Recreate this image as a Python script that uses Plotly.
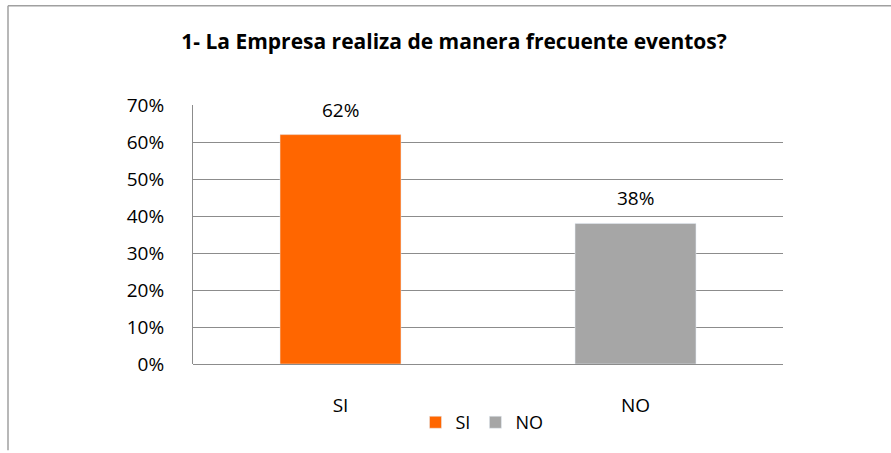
import plotly.graph_objects as go

categories = ["SI", "NO"]
values = [0.62, 0.38]
colors = ["#FF6600", "#A6A6A6"]
title_text = "<b>1- La Empresa realiza de manera frecuente eventos?</b>"
tick_vals = [0, 0.1, 0.2, 0.3, 0.4, 0.5, 0.6, 0.7]
tick_text = ["0%", "10%", "20%", "30%", "40%", "50%", "60%", "70%"]

FONT = "Open Sans"

fig = go.Figure()
for cat, val, col in zip(categories, values, colors):
    fig.add_trace(go.Bar(x=[cat], y=[val], name=cat, marker_color=col))

annotations = [
    dict(x=cat, y=val, xref="x", yref="y", text=f"{round(val*100)}%",
         showarrow=False, yanchor="bottom", yshift=10,
         font=dict(size=19, color="#000000", family=FONT))
    for cat, val in zip(categories, values)
]

W, H = 891, 453
L, R, T, B = 193, 783, 105, 366
pw, ph = R - L, B - T

def px_x(x):
    return (x - L) / pw

def px_y(y):
    return (B - y) / ph

fig.update_layout(
    width=W, height=H,
    margin=dict(l=L, r=W - R, t=T, b=H - B),
    paper_bgcolor="white", plot_bgcolor="white",
    barmode="overlay", bargap=0.59,
    font=dict(family=FONT, color="#000000", size=19),
    title=dict(text=title_text, x=454 / W, xanchor="center", xref="container",
               y=1 - 42 / H, yanchor="middle",
               font=dict(size=21, family=FONT, color="#000000")),
    showlegend=True,
    legend=dict(orientation="h", x=px_x(482), xanchor="center",
                y=px_y(425), yanchor="middle",
                font=dict(size=18, family=FONT), itemwidth=30,
                tracegroupgap=0),
    annotations=annotations,
    xaxis=dict(showgrid=False, showline=False, ticks="",
               tickfont=dict(size=19, family=FONT), ticklabelstandoff=28),
    yaxis=dict(range=[0, 0.7], tickvals=tick_vals, ticktext=tick_text,
               showgrid=True, gridcolor="#8C8C8C", gridwidth=1,
               showline=True, linecolor="#8C8C8C", linewidth=1,
               zeroline=True, zerolinecolor="#8C8C8C", zerolinewidth=1,
               ticks="", tickfont=dict(size=19, family=FONT),
               ticklabelstandoff=24),
    shapes=[
        dict(type="line", xref="paper", yref="paper",
             x0=px_x(8), x1=px_x(891), y0=px_y(5), y1=px_y(5),
             line=dict(color="#A0A0A0", width=1.5)),
        dict(type="line", xref="paper", yref="paper",
             x0=px_x(8), x1=px_x(8), y0=px_y(5), y1=px_y(453),
             line=dict(color="#A0A0A0", width=1.5)),
    ],
)

fig.write_html("out.html", config={"displayModeBar": False})

with open("out.html", "r", encoding="utf-8") as f:
    html = f.read()
html = html.replace("<head>", "<head><style>html,body{margin:0;padding:0;overflow:hidden;}</style>", 1)
with open("out.html", "w", encoding="utf-8") as f:
    f.write(html)
